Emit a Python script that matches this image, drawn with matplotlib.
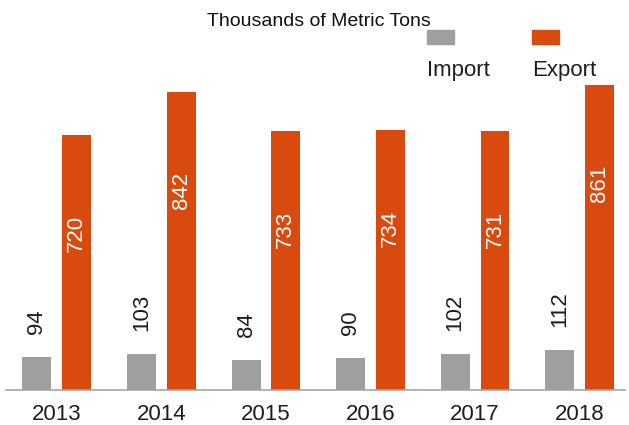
import matplotlib
matplotlib.use('Agg')
import matplotlib.pyplot as plt
from matplotlib.patches import Rectangle
import numpy as np

# data
years = ['2013', '2014', '2015', '2016', '2017', '2018']
imports = [94, 103, 84, 90, 102, 112]
exports = [720, 842, 733, 734, 731, 861]
series_names = ['Import', 'Export']

GRAY = '#a09f9d'
ORANGE = '#d94a0f'
TXT = '#1e1e1e'
FS = 16

plt.rcParams['font.family'] = ['Liberation Sans', 'DejaVu Sans']

fig = plt.figure(figsize=(6.29, 4.25), dpi=100)
ax = fig.add_axes([6 / 629, 35 / 425, 619 / 629, 390 / 425])

x = np.arange(len(years))
w = 0.277
off = 0.19
ax.bar(x - off, imports, w, color=GRAY)
ax.bar(x + off, exports, w, color=ORANGE)

ax.set_xlim(-0.485, 5.433)
ax.set_ylim(0, 1101.7)

# value labels
for xi, v in zip(x, imports):
    ax.text(xi - off, v + 65, str(v), rotation=90, ha='center', va='bottom',
            fontsize=FS, color=TXT)
for xi, v in zip(x, exports):
    ax.text(xi + off, v - 226, str(v), rotation=90, ha='center', va='top',
            fontsize=FS, color='white')

ax.set_xticks(x)
ax.set_xticklabels(years, fontsize=FS, color=TXT)
ax.tick_params(axis='x', length=0, pad=10)
ax.set_yticks([])
for s in ['top', 'right', 'left']:
    ax.spines[s].set_visible(False)
ax.spines['bottom'].set_color('#a6a6a6')
ax.spines['bottom'].set_linewidth(1.2)

# title and legend
fig.text(319 / 629, 1 - 26 / 425, 'Thousands of Metric Tons', ha='center',
         va='baseline', fontsize=14, color='#111111')
for xl, col, name in zip([427, 532], [GRAY, ORANGE], series_names):
    fig.add_artist(Rectangle((xl / 629, 1 - 44 / 425), 27 / 629, 14 / 425,
                             transform=fig.transFigure, color=col))
    fig.text(xl / 629, 1 - 76 / 425, name, ha='left', va='baseline',
             fontsize=FS, color=TXT)

fig.savefig('out.png', dpi=100)
